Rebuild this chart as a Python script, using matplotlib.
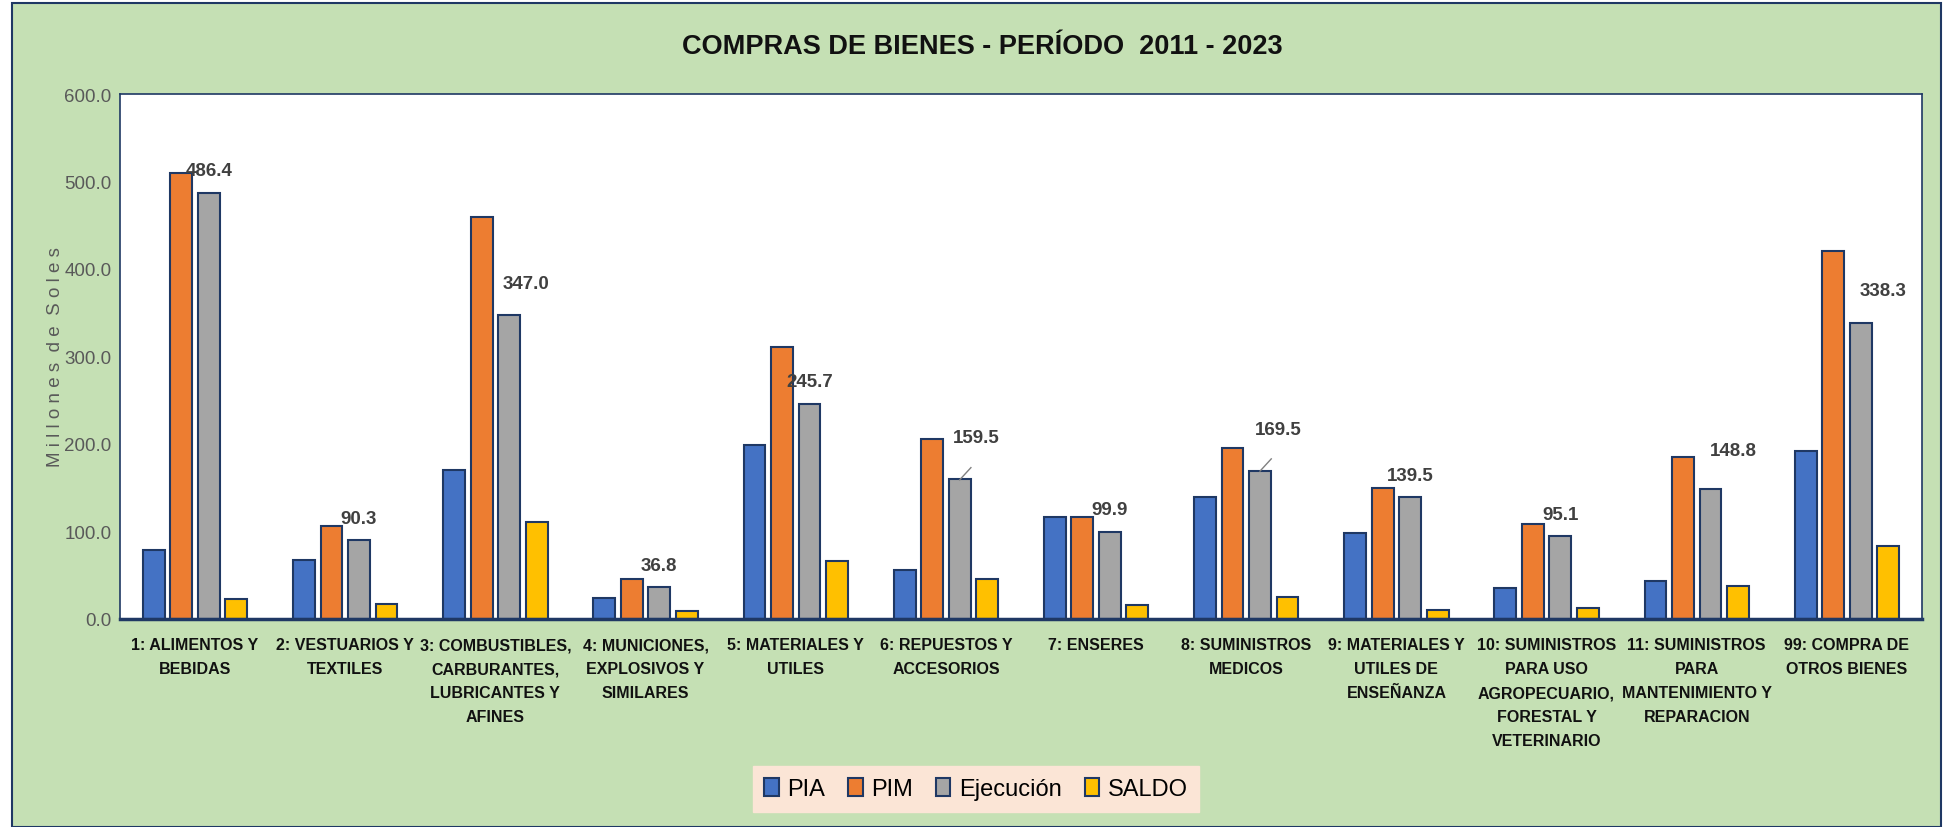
import matplotlib
matplotlib.use("Agg")
import matplotlib.pyplot as plt
from matplotlib.patches import Rectangle, Patch
import numpy as np

categories = [
    "1: ALIMENTOS Y\nBEBIDAS",
    "2: VESTUARIOS Y\nTEXTILES",
    "3: COMBUSTIBLES,\nCARBURANTES,\nLUBRICANTES Y\nAFINES",
    "4: MUNICIONES,\nEXPLOSIVOS Y\nSIMILARES",
    "5: MATERIALES Y\nUTILES",
    "6: REPUESTOS Y\nACCESORIOS",
    "7: ENSERES",
    "8: SUMINISTROS\nMEDICOS",
    "9: MATERIALES Y\nUTILES DE\nENSEÑANZA",
    "10: SUMINISTROS\nPARA USO\nAGROPECUARIO,\nFORESTAL Y\nVETERINARIO",
    "11: SUMINISTROS\nPARA\nMANTENIMIENTO Y\nREPARACION",
    "99: COMPRA DE\nOTROS BIENES",
]
pia = [79.4, 67.1, 169.8, 24.0, 199.2, 56.2, 116.5, 139.2, 98.0, 35.4, 43.8, 191.5]
pim = [509.5, 106.6, 459.5, 46.0, 311.4, 205.7, 116.5, 195.3, 149.6, 108.4, 184.9, 421.0]
ejecucion = [486.4, 90.3, 347.0, 36.8, 245.7, 159.5, 99.9, 169.5, 139.5, 95.1, 148.8, 338.3]
saldo = [23.3, 16.7, 110.7, 9.5, 66.5, 45.3, 16.5, 24.6, 10.4, 12.3, 37.3, 83.0]
series_names = ["PIA", "PIM", "Ejecución", "SALDO"]
colors = ["#4472C4", "#ED7D31", "#A5A5A5", "#FFC000"]

# label placement (offset in category units, text-center value)
lbl_dx = [0.0, 0.0, 0.11, 0.0, 0.0, 0.11, 0.0, 0.12, 0.0, 0.0, 0.15, 0.15]
lbl_y = [512, 115, 383, 61.5, 271, 207.6, 124.6, 216, 164, 120, 192.6, 375.7]

plt.rcParams["font.family"] = ["Liberation Sans", "DejaVu Sans"]

W, H = 1943, 828
fig = plt.figure(figsize=(W / 100, H / 100), dpi=100, facecolor="white")

# outer green frame
frame = Rectangle((12 / W, 0), (W - 14) / W, (H - 4) / H,
                  transform=fig.transFigure, facecolor="#C5E0B4",
                  edgecolor="#1F3864", linewidth=1.5, zorder=-10)
fig.add_artist(frame)

ax = fig.add_axes([120 / W, 1 - 620 / H, (1922 - 120) / W, (620 - 95) / H])
ax.set_zorder(1)
ax.set_facecolor("white")

x = np.arange(len(categories))
width = 0.145
pitch = 0.183
edge = "#1F3864"
for i, (vals, name, c) in enumerate(zip([pia, pim, ejecucion, saldo], series_names, colors)):
    ax.bar(x + (i - 1.5) * pitch, vals, width, color=c, edgecolor=edge,
           linewidth=1.5, label=name, zorder=2)

ex = x + 0.5 * pitch
for i in range(len(categories)):
    ax.text(ex[i] + lbl_dx[i], lbl_y[i], f"{ejecucion[i]:.1f}", ha="center", va="center",
            fontsize=13.5, fontweight="bold", color="#404040", zorder=4)

# leader lines
for i in (5, 7):
    ax.plot([ex[i], ex[i] + 0.075], [ejecucion[i] - 0.5, ejecucion[i] + 13.5],
            color="#808080", linewidth=1, zorder=3)

ax.set_xlim(-0.5, len(categories) - 0.5)
ax.set_ylim(0, 600)
ax.set_yticks(np.arange(0, 601, 100))
ax.set_yticklabels([f"{v:.1f}" for v in np.arange(0, 601, 100)], fontsize=13.5, color="#595959")
ax.set_xticks(x)
ax.set_xticklabels(categories, fontsize=11.5, fontweight="bold", color="#111111", linespacing=1.75)
ax.tick_params(axis="both", length=0)
ax.tick_params(axis="x", pad=13)
ax.tick_params(axis="y", pad=6)
for s in ax.spines.values():
    s.set_color(edge)
    s.set_linewidth(1.2)
ax.spines["bottom"].set_linewidth(2.5)

ax.set_ylabel("M i l l o n e s  d e  S o l e s", fontsize=13.5, color="#595959", labelpad=0)

fig.text(0.5 * (700 + 1264) / W, 1 - 47 / H, "COMPRAS DE BIENES - PERÍODO  2011 - 2023",
         ha="center", va="center", fontsize=19.5, fontweight="bold", color="#111111")

handles = [Patch(facecolor=c, edgecolor=edge, linewidth=1.5) for c in colors]
leg = fig.legend(handles, series_names, loc="center", bbox_to_anchor=(976 / W, 1 - 790 / H),
                 ncol=4, frameon=True, fontsize=17, handlelength=0.6, handleheight=0.8,
                 handletextpad=0.35, columnspacing=1.0, borderpad=0.5, fancybox=False)
leg.get_frame().set_facecolor("#FBE5D6")
leg.get_frame().set_edgecolor("#FBE5D6")
leg.get_frame().set_alpha(1)

fig.savefig("out.png", dpi=100, facecolor=fig.get_facecolor())
